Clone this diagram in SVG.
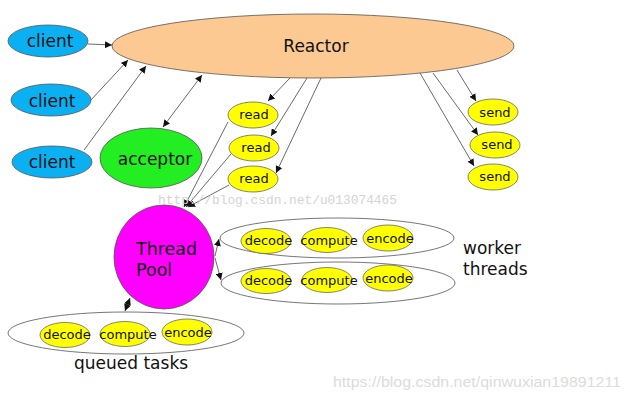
<svg xmlns="http://www.w3.org/2000/svg" width="629" height="400" viewBox="0 0 629 400">
<defs>
<marker id="ah" viewBox="0 0 10 10" refX="10" refY="5" markerWidth="7" markerHeight="7" markerUnits="userSpaceOnUse" orient="auto-start-reverse">
<path d="M0,0 L10,5 L0,10 z" fill="#111"/>
</marker>
<style>
.n{stroke:#555;stroke-width:0.8}
.t{font-family:"DejaVu Sans",Verdana,sans-serif;fill:#111;text-anchor:middle}
.c{stroke:#444;stroke-width:0.8;fill:none}
.y{fill:#ffff00;stroke:#666;stroke-width:0.8}
.g{fill:none;stroke:#666;stroke-width:0.9}
.s13{font-size:13px}
.s17{font-size:17px}
</style>
</defs>
<rect width="629" height="400" fill="#fff"/>

<g id="edges">
<line class="c" x1="88" y1="44" x2="112" y2="45" marker-end="url(#ah)"/>
<line class="c" x1="91" y1="100" x2="128" y2="60" marker-end="url(#ah)"/>
<line class="c" x1="84" y1="150" x2="146" y2="66" marker-end="url(#ah)"/>
<line class="c" x1="202" y1="75" x2="163" y2="127" marker-start="url(#ah)" marker-end="url(#ah)"/>
<line class="c" x1="290" y1="78" x2="268" y2="101" marker-end="url(#ah)"/>
<line class="c" x1="307" y1="78" x2="271" y2="136" marker-end="url(#ah)"/>
<line class="c" x1="321" y1="78" x2="276" y2="173" marker-end="url(#ah)"/>
<line class="c" x1="228" y1="122" x2="184" y2="207" marker-end="url(#ah)"/>
<line class="c" x1="231" y1="154" x2="186" y2="207" marker-end="url(#ah)"/>
<line class="c" x1="229" y1="185" x2="188" y2="207" marker-end="url(#ah)"/>
<line class="c" x1="457" y1="70" x2="476" y2="101" marker-end="url(#ah)"/>
<line class="c" x1="433" y1="73" x2="478" y2="135" marker-end="url(#ah)"/>
<line class="c" x1="420" y1="73" x2="474" y2="166" marker-end="url(#ah)"/>
<line class="c" x1="215" y1="256" x2="219" y2="239" marker-end="url(#ah)"/>
<line class="c" x1="215" y1="258" x2="221" y2="280" marker-end="url(#ah)"/>
<line class="c" x1="130" y1="298" x2="125" y2="311" marker-start="url(#ah)" marker-end="url(#ah)"/>
</g>

<g id="reactor">
<ellipse class="n" cx="313" cy="46" rx="201" ry="32" fill="#fcc992"/>
<text class="t s17" x="316" y="52">Reactor</text>
</g>
<g id="client1">
<ellipse class="n" cx="48" cy="41" rx="40" ry="16" fill="#0ab0f2"/>
<text class="t s17" x="50" y="47">client</text>
</g>
<g id="client2">
<ellipse class="n" cx="51" cy="100" rx="40" ry="16" fill="#0ab0f2"/>
<text class="t s17" x="52" y="107">client</text>
</g>
<g id="client3">
<ellipse class="n" cx="52" cy="162" rx="40" ry="16" fill="#0ab0f2"/>
<text class="t s17" x="52" y="168">client</text>
</g>
<g id="acceptor">
<ellipse class="n" cx="151" cy="158" rx="51" ry="30" fill="#22ee22"/>
<text class="t s17" x="155" y="165">acceptor</text>
</g>
<g id="read1">
<ellipse class="y" cx="253" cy="115" rx="25" ry="13"/>
<text class="t s13" x="254" y="119">read</text>
</g>
<g id="read2">
<ellipse class="y" cx="254" cy="148" rx="25" ry="13"/>
<text class="t s13" x="256" y="152">read</text>
</g>
<g id="read3">
<ellipse class="y" cx="253" cy="179" rx="25" ry="13"/>
<text class="t s13" x="254" y="183">read</text>
</g>
<g id="send1">
<ellipse class="y" cx="493" cy="112" rx="25" ry="13"/>
<text class="t s13" x="495" y="117">send</text>
</g>
<g id="send2">
<ellipse class="y" cx="495" cy="145" rx="25" ry="13"/>
<text class="t s13" x="497" y="149">send</text>
</g>
<g id="send3">
<ellipse class="y" cx="493" cy="177" rx="25" ry="13"/>
<text class="t s13" x="495" y="181">send</text>
</g>
<g id="threadpool">
<ellipse class="n" cx="164" cy="257" rx="50" ry="52" fill="#ff00ff"/>
<text class="s17" style="font-family:'DejaVu Sans',Verdana,sans-serif;fill:#111;font-size:17.5px" x="136" y="255">Thread</text>
<text class="s17" style="font-family:'DejaVu Sans',Verdana,sans-serif;fill:#111;font-size:17.5px" x="136" y="276">Pool</text>
</g>
<g id="worker1">
<ellipse class="g" cx="337" cy="238" rx="117" ry="20"/>
<ellipse class="y" cx="266" cy="241" rx="25" ry="12.5"/>
<ellipse class="y" cx="327" cy="240" rx="25" ry="12.5"/>
<ellipse class="y" cx="388" cy="238" rx="25" ry="13"/>
<text class="t s13" x="268.5" y="245">decode</text>
<text class="t s13" x="329" y="245">compute</text>
<text class="t s13" x="390" y="243">encode</text>
</g>
<g id="worker2">
<ellipse class="g" cx="338" cy="283" rx="117" ry="21"/>
<ellipse class="y" cx="266" cy="281" rx="25" ry="12.5"/>
<ellipse class="y" cx="327" cy="280" rx="25" ry="12.5"/>
<ellipse class="y" cx="388" cy="278" rx="25" ry="13"/>
<text class="t s13" x="268.5" y="285">decode</text>
<text class="t s13" x="329" y="285">compute</text>
<text class="t s13" x="389" y="283">encode</text>
</g>
<g id="workerlabel">
<text class="s17" style="font-family:'DejaVu Sans',Verdana,sans-serif;fill:#111" x="463" y="254">worker</text>
<text class="s17" style="font-family:'DejaVu Sans',Verdana,sans-serif;fill:#111" x="463" y="275">threads</text>
</g>
<g id="queued">
<ellipse class="g" cx="126" cy="333" rx="118" ry="21"/>
<ellipse class="y" cx="65" cy="335" rx="25" ry="12.5"/>
<ellipse class="y" cx="125" cy="334" rx="25" ry="12.5"/>
<ellipse class="y" cx="187" cy="332" rx="25" ry="13"/>
<text class="t s13" x="67" y="339">decode</text>
<text class="t s13" x="128" y="339">compute</text>
<text class="t s13" x="188" y="337">encode</text>
<text class="s17" style="font-family:'DejaVu Sans',Verdana,sans-serif;fill:#111" x="74" y="369">queued tasks</text>
</g>
<g id="watermarks">
<text x="158" y="204" style="font-family:'Liberation Mono',monospace;font-size:13px;fill:#d4d4d4" textLength="239" lengthAdjust="spacingAndGlyphs">http://blog.csdn.net/u013074465</text>
<text x="333" y="387" style="font-family:'Liberation Sans',Arial,sans-serif;font-size:15.5px;fill:#dcdcdc" textLength="288" lengthAdjust="spacingAndGlyphs">https://blog.csdn.net/qinwuxian19891211</text>
</g>
</svg>
